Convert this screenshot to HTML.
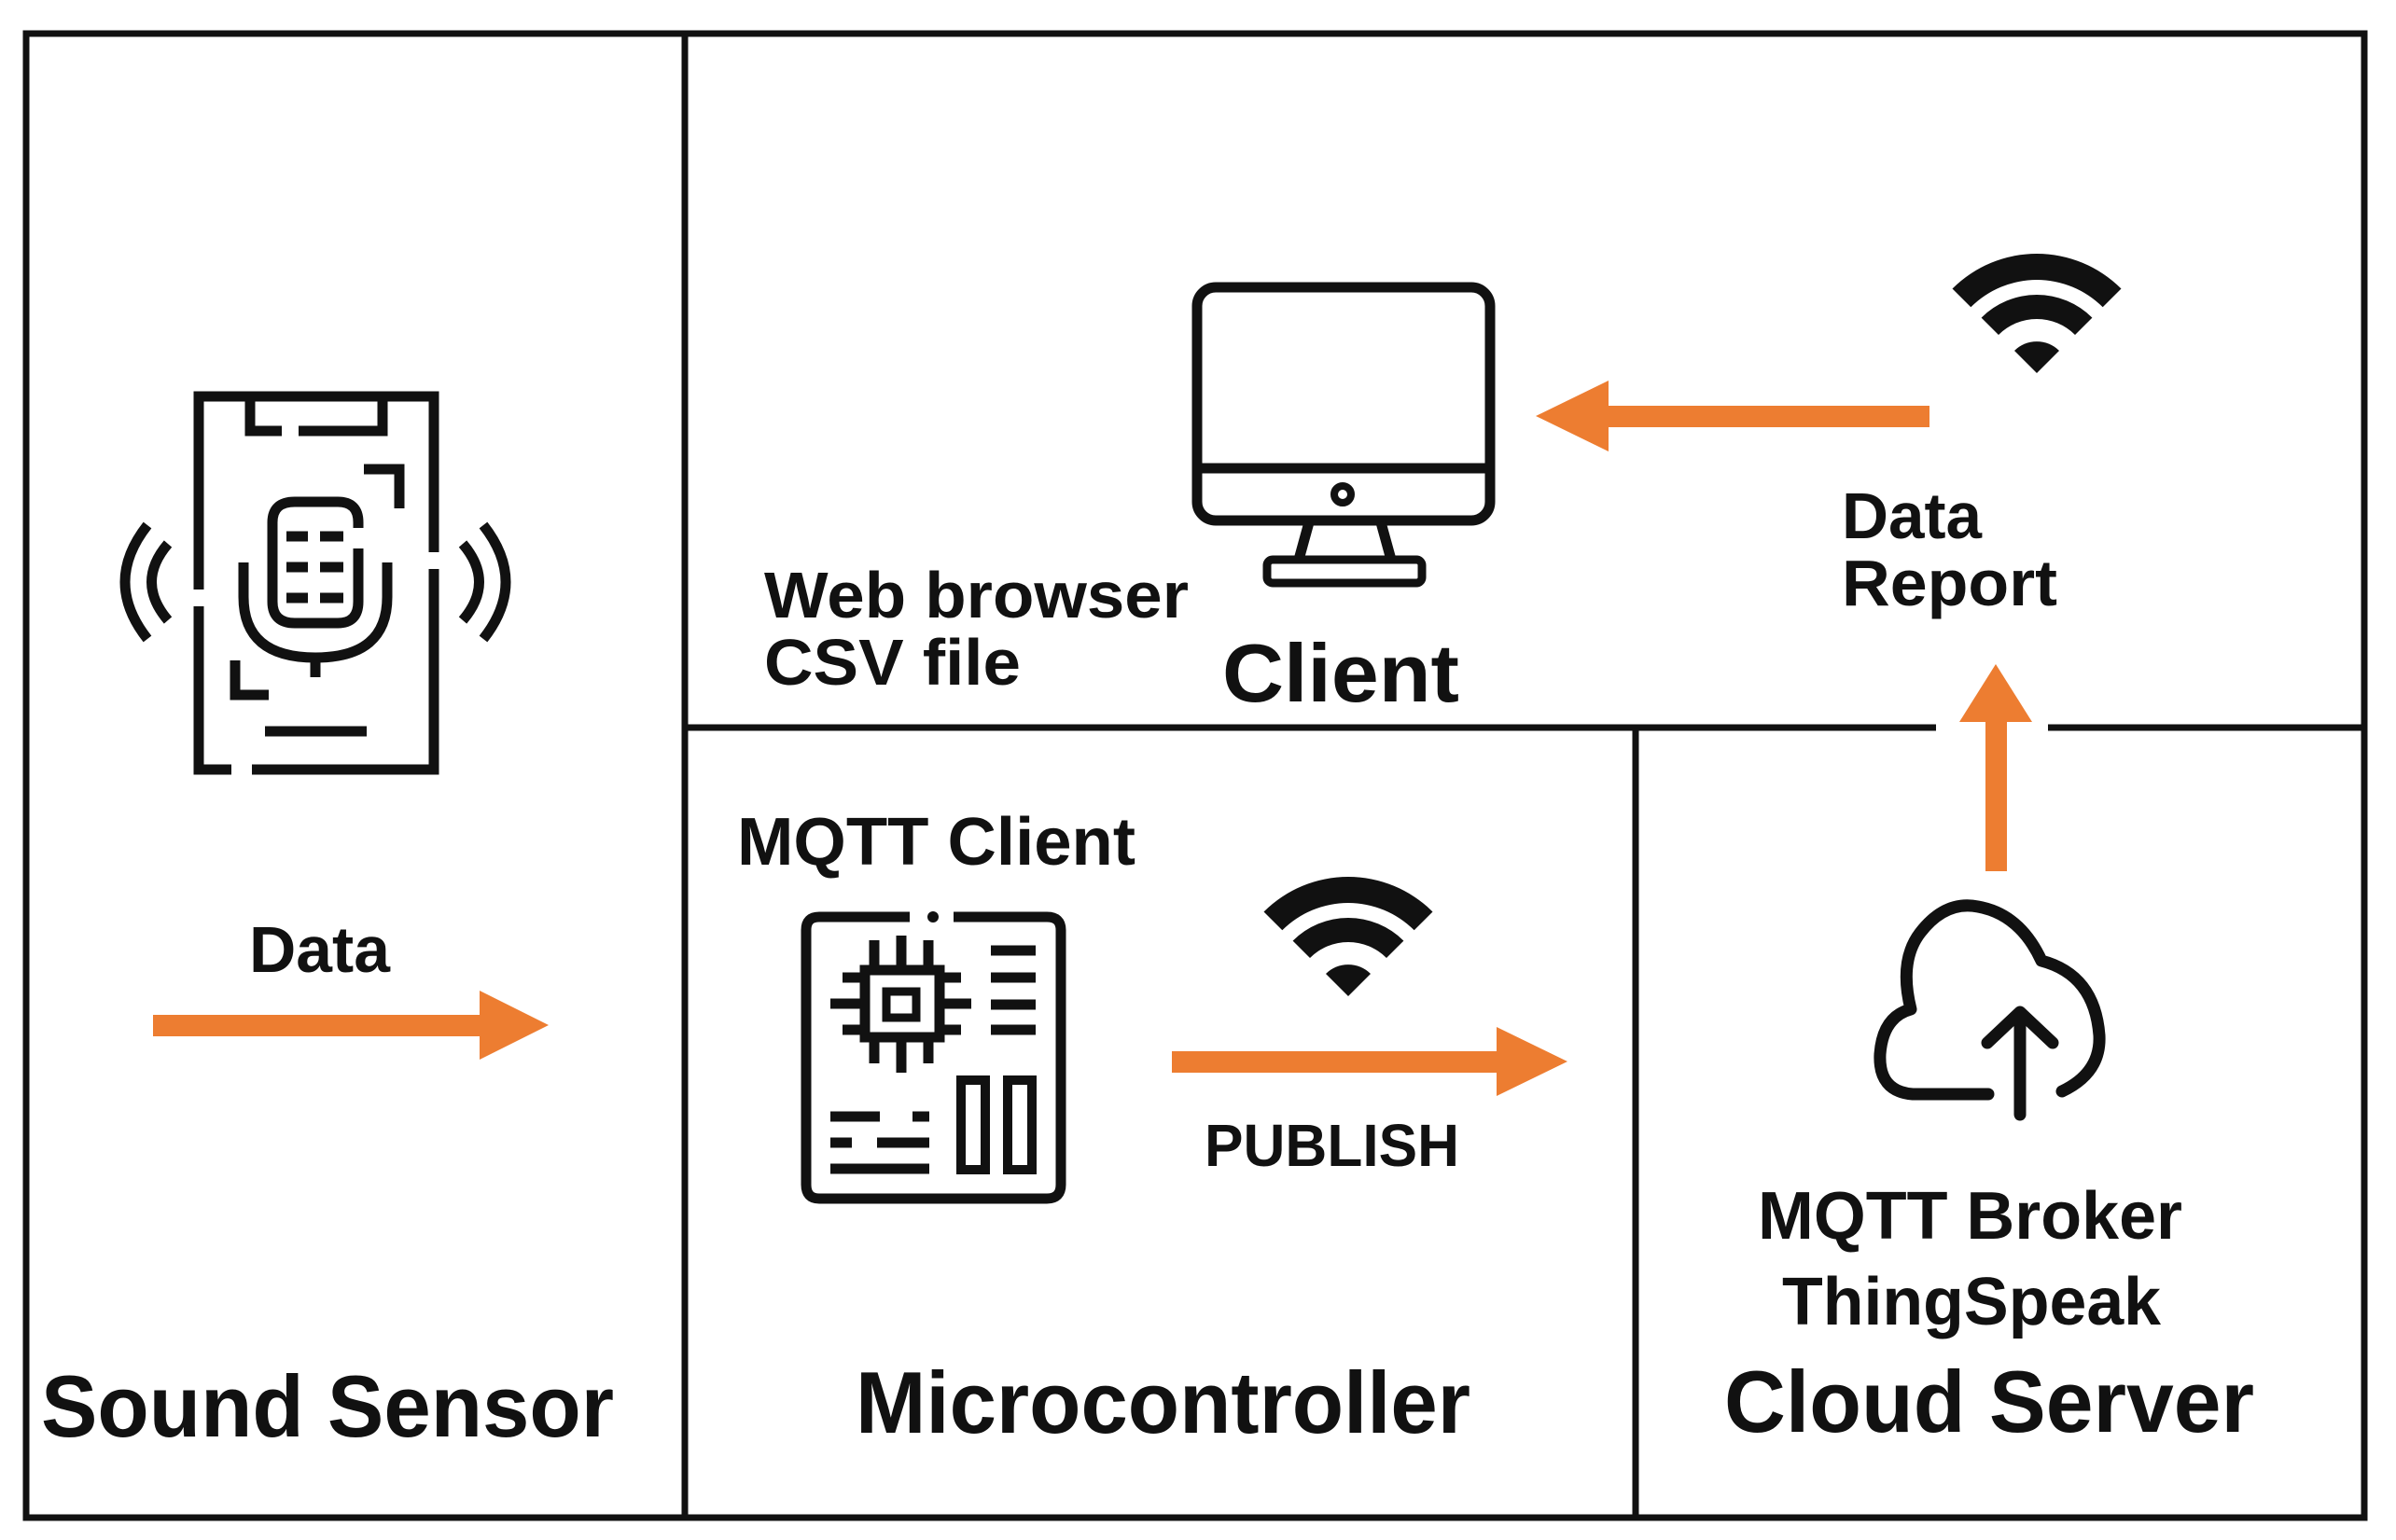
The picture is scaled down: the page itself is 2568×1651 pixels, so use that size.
<!DOCTYPE html>
<html><head><meta charset="utf-8"><style>
html,body{margin:0;padding:0;background:#fff;}
svg{display:block;}
text{font-family:"Liberation Sans",Arial,sans-serif;font-weight:bold;fill:#111;}
</style></head><body>
<svg width="2568" height="1651" viewBox="0 0 2568 1651" xmlns="http://www.w3.org/2000/svg">
<rect width="2568" height="1651" fill="#fff"/>
<!-- frame -->
<g stroke="#111" stroke-width="7" fill="none">
<rect x="28" y="36" width="2506" height="1591"/>
<line x1="734" y1="36" x2="734" y2="1627"/>
<line x1="734" y1="780" x2="2075" y2="780"/>
<line x1="2195" y1="780" x2="2534" y2="780"/>
<line x1="1753" y1="780" x2="1753" y2="1627"/>
</g>
<!-- arrows -->
<g fill="#ED7D31">
<rect x="164" y="1088" width="354" height="23"/>
<polygon points="514,1062 588,1099 514,1136"/>
<rect x="1256" y="1127" width="352" height="23"/>
<polygon points="1604,1101 1680,1138 1604,1175"/>
<rect x="1720" y="435" width="348" height="23"/>
<polygon points="1724,408 1646,446 1724,484"/>
<rect x="2128" y="770" width="23" height="164"/>
<polygon points="2100,774 2139,712 2178,774"/>
</g>
<!-- phone / mic icon -->
<g stroke="#111" stroke-width="11" fill="none" stroke-linecap="butt">
<path d="M213 632 V425 H465 V592"/>
<path d="M465 610 V825 H270"/>
<path d="M248 825 H213 V650"/>
<path d="M268 425 V462 H302"/>
<path d="M320 462 H410 V425"/>
<path d="M390 503 H428 V545"/>
<path d="M252 708 V745 H288"/>
<path d="M284 784 H393"/>
<path d="M384 566 V560 Q384 538 362 538 H316 Q292 538 292 560 V645 Q292 668 316 668 H362 Q384 668 384 645 V588"/>
<path d="M261 603 V640 Q261 705 338 705 Q415 705 415 640 V603"/>
<path d="M338 705 V726"/>
<path d="M158 563 Q110 624 158 685"/>
<path d="M180 583 Q145 624 180 665"/>
<path d="M518 563 Q566 624 518 685"/>
<path d="M496 583 Q531 624 496 665"/>
</g>
<g stroke="#111" stroke-width="11">
<path d="M307 575 H330 M343 575 H368 M307 608 H330 M343 608 H368 M307 641 H330 M343 641 H368"/>
</g>
<!-- monitor -->
<g stroke="#111" stroke-width="11" fill="none">
<rect x="1283" y="308" width="314" height="250" rx="20"/>
<line x1="1283" y1="502" x2="1597" y2="502"/>
<circle cx="1439" cy="530" r="9" stroke-width="8"/>
<path d="M1403 560 L1392 600 M1480 560 L1491 600"/>
<rect x="1358" y="600" width="166" height="25" rx="6" stroke-width="9"/>
</g>
<!-- wifi -->
<g fill="#111">
<path d="M2092.5 309.5 A128 128 0 0 1 2273.5 309.5 L2253.7 329.3 A100 100 0 0 0 2112.3 329.3 Z"/>
<path d="M2123.6 340.6 A84 84 0 0 1 2242.4 340.6 L2224 359 A58 58 0 0 0 2142 359 Z"/>
<path d="M2159 376 A34 34 0 0 1 2207 376 L2183 400 Z"/>
</g>
<g fill="#111" transform="translate(-738,668)">
<path d="M2092.5 309.5 A128 128 0 0 1 2273.5 309.5 L2253.7 329.3 A100 100 0 0 0 2112.3 329.3 Z"/>
<path d="M2123.6 340.6 A84 84 0 0 1 2242.4 340.6 L2224 359 A58 58 0 0 0 2142 359 Z"/>
<path d="M2159 376 A34 34 0 0 1 2207 376 L2183 400 Z"/>
</g>
<!-- board -->
<g stroke="#111" stroke-width="11" fill="none">
<path d="M975 983 H878 Q864 983 864 997 V1270 Q864 1285 878 1285 H1122 Q1137 1285 1137 1270 V997 Q1137 983 1122 983 H1022"/>
<rect x="927" y="1040" width="80" height="72"/>
<rect x="950" y="1063" width="32" height="28" stroke-width="9"/>
<path d="M937 1008 V1040 M966 1003 V1040 M995 1008 V1040 M937 1112 V1140 M966 1112 V1150 M995 1112 V1140 M903 1048 H927 M890 1076 H927 M903 1104 H927 M1007 1048 H1030 M1007 1076 H1041 M1007 1104 H1030"/>
<path d="M1062 1019 H1110 M1062 1048 H1110 M1062 1077 H1110 M1062 1104 H1110"/>
<rect x="1030" y="1158" width="26" height="96" stroke-width="10"/>
<rect x="1080" y="1158" width="26" height="96" stroke-width="10"/>
<path d="M890 1197 H943 M978 1197 H996 M890 1225 H913 M940 1225 H996 M890 1253 H996"/>
</g>
<circle cx="1000" cy="983" r="6" fill="#111"/>
<!-- cloud -->
<g stroke="#111" stroke-width="13" fill="none" stroke-linecap="round" stroke-linejoin="round">
<path d="M2131 1173 H2050 Q2013 1170 2015 1130 Q2018 1090 2048 1082 Q2035 1030 2058 1000 Q2085 965 2120 972 Q2165 980 2188 1030 Q2245 1045 2250 1110 Q2252 1150 2210 1170"/>
<path d="M2165 1195 V1090 M2130 1118 L2165 1085 L2200 1118"/>
</g>
<!-- text -->
<text x="44" y="1540" font-size="94" textLength="614" lengthAdjust="spacingAndGlyphs">Sound Sensor</text>
<text x="917" y="1536" font-size="94" textLength="659" lengthAdjust="spacingAndGlyphs">Microcontroller</text>
<text x="1848" y="1535" font-size="94" textLength="568" lengthAdjust="spacingAndGlyphs">Cloud Server</text>
<text x="1310" y="752" font-size="88" textLength="254" lengthAdjust="spacingAndGlyphs">Client</text>
<text x="819" y="662" font-size="70" textLength="455" lengthAdjust="spacingAndGlyphs">Web browser</text>
<text x="819" y="734" font-size="70" textLength="275" lengthAdjust="spacingAndGlyphs">CSV file</text>
<text x="1974" y="577" font-size="70" textLength="150" lengthAdjust="spacingAndGlyphs">Data</text>
<text x="1974" y="649" font-size="70" textLength="231" lengthAdjust="spacingAndGlyphs">Report</text>
<text x="790" y="927" font-size="72" textLength="427" lengthAdjust="spacingAndGlyphs">MQTT Client</text>
<text x="267" y="1042" font-size="70" textLength="151" lengthAdjust="spacingAndGlyphs">Data</text>
<text x="1291" y="1250" font-size="64" textLength="273" lengthAdjust="spacingAndGlyphs">PUBLISH</text>
<text x="1884" y="1328" font-size="72" textLength="455" lengthAdjust="spacingAndGlyphs">MQTT Broker</text>
<text x="1910" y="1420" font-size="72" textLength="406" lengthAdjust="spacingAndGlyphs">ThingSpeak</text>
</svg>
</body></html>
